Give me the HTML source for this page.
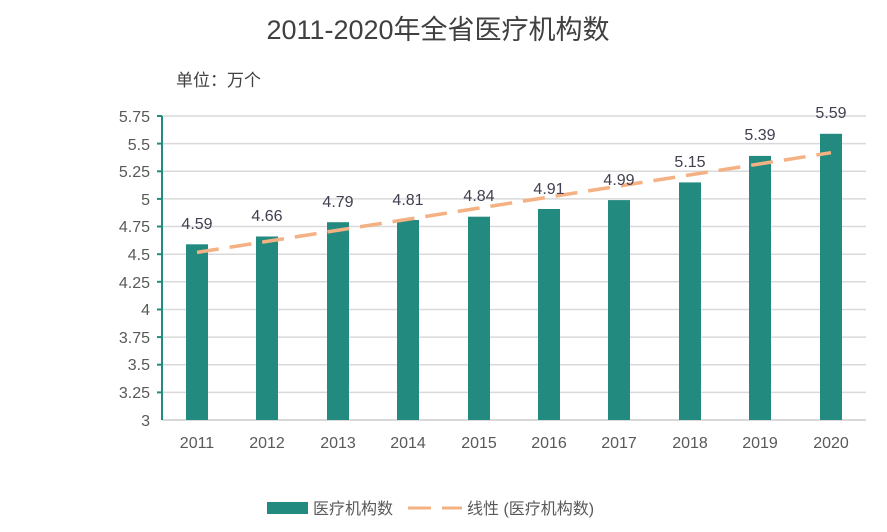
<!DOCTYPE html>
<html><head><meta charset="utf-8"><style>
body{margin:0;background:#fff;}
svg{display:block;font-family:"Liberation Sans","Noto Sans CJK SC",sans-serif;}
</style></head><body>
<svg width="887" height="532" viewBox="0 0 887 532">
<text x="438" y="39" text-anchor="middle" font-size="27" fill="#404040">2011-2020年全省医疗机构数</text>
<text x="176" y="86" font-size="17" fill="#404040">单位：万个</text>
<g stroke="#d9d9d9" stroke-width="1.5">
<line x1="162" x2="866" y1="116" y2="116"/>
<line x1="162" x2="866" y1="143.6" y2="143.6"/>
<line x1="162" x2="866" y1="171.3" y2="171.3"/>
<line x1="162" x2="866" y1="198.9" y2="198.9"/>
<line x1="162" x2="866" y1="226.5" y2="226.5"/>
<line x1="162" x2="866" y1="254.2" y2="254.2"/>
<line x1="162" x2="866" y1="281.8" y2="281.8"/>
<line x1="162" x2="866" y1="309.5" y2="309.5"/>
<line x1="162" x2="866" y1="337.1" y2="337.1"/>
<line x1="162" x2="866" y1="364.7" y2="364.7"/>
<line x1="162" x2="866" y1="392.4" y2="392.4"/>
<line x1="162" x2="866" y1="420" y2="420" stroke-width="2"/>
</g>
<g stroke="#238a80" stroke-width="2">
<line x1="162" x2="162" y1="116" y2="420"/>
<line x1="157" x2="162" y1="116" y2="116"/><line x1="157" x2="162" y1="143.6" y2="143.6"/><line x1="157" x2="162" y1="171.3" y2="171.3"/><line x1="157" x2="162" y1="198.9" y2="198.9"/><line x1="157" x2="162" y1="226.5" y2="226.5"/><line x1="157" x2="162" y1="254.2" y2="254.2"/><line x1="157" x2="162" y1="281.8" y2="281.8"/><line x1="157" x2="162" y1="309.5" y2="309.5"/><line x1="157" x2="162" y1="337.1" y2="337.1"/><line x1="157" x2="162" y1="364.7" y2="364.7"/><line x1="157" x2="162" y1="392.4" y2="392.4"/>
</g>
<g font-size="16" fill="#595959" text-anchor="end">
<text x="150" y="122">5.75</text><text x="150" y="150">5.5</text><text x="150" y="177">5.25</text><text x="150" y="205">5</text><text x="150" y="232">4.75</text><text x="150" y="260">4.5</text><text x="150" y="288">4.25</text><text x="150" y="315">4</text><text x="150" y="343">3.75</text><text x="150" y="370">3.5</text><text x="150" y="398">3.25</text><text x="150" y="426">3</text>
</g>
<g fill="#238a80">
<rect x="186" y="244.3" width="22" height="175.7"/>
<rect x="256" y="236.5" width="22" height="183.5"/>
<rect x="327" y="222.2" width="22" height="197.8"/>
<rect x="397" y="220" width="22" height="200"/>
<rect x="468" y="216.7" width="22" height="203.3"/>
<rect x="538" y="209" width="22" height="211"/>
<rect x="608" y="200.1" width="22" height="219.9"/>
<rect x="679" y="182.4" width="22" height="237.6"/>
<rect x="749" y="155.9" width="22" height="264.1"/>
<rect x="820" y="133.8" width="22" height="286.2"/>
</g>
<line x1="197" y1="252.4" x2="831" y2="152.7" stroke="#f4b183" stroke-width="3.5" stroke-dasharray="22,11"/>
<g font-size="16" fill="#404050" text-anchor="middle">
<text x="197" y="229">4.59</text><text x="267" y="221">4.66</text><text x="338" y="207">4.79</text><text x="408" y="205">4.81</text><text x="479" y="201">4.84</text><text x="549" y="194">4.91</text><text x="619" y="185">4.99</text><text x="690" y="167">5.15</text><text x="760" y="140">5.39</text><text x="831" y="118">5.59</text>
</g>
<g font-size="16" fill="#595959" text-anchor="middle">
<text x="197" y="448">2011</text><text x="267" y="448">2012</text><text x="338" y="448">2013</text><text x="408" y="448">2014</text><text x="479" y="448">2015</text><text x="549" y="448">2016</text><text x="619" y="448">2017</text><text x="690" y="448">2018</text><text x="760" y="448">2019</text><text x="831" y="448">2020</text>
</g>
<rect x="267" y="502" width="41" height="12" fill="#238a80"/>
<text x="313" y="514" font-size="16" fill="#595959">医疗机构数</text>
<line x1="408" y1="508" x2="431" y2="508" stroke="#f4b183" stroke-width="3"/>
<line x1="442" y1="508" x2="462" y2="508" stroke="#f4b183" stroke-width="3"/>
<text x="467" y="514" font-size="16" fill="#595959">线性 (医疗机构数)</text>
</svg>
</body></html>
